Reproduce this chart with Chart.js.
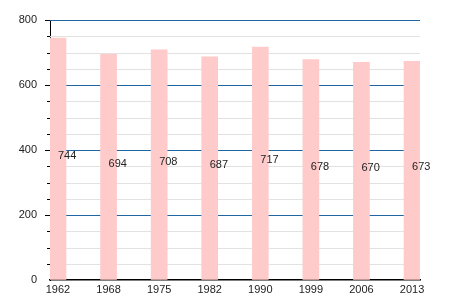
<!DOCTYPE html>
<html>
<head>
<meta charset="utf-8">
<script src="https://cdn.jsdelivr.net/npm/chart.js@4"></script>
<style>
  body { margin: 0; background: #fff; }
  #wrap { width: 450px; height: 300px; }
</style>
</head>
<body>
<div id="wrap"><canvas id="chart" width="450" height="300"></canvas></div>
<script>
const years = ["1962", "1968", "1975", "1982", "1990", "1999", "2006", "2013"];
const population = [744, 694, 708, 687, 717, 678, 670, 673];
const yTicks = [0, 200, 400, 600, 800];

const FONT = "'Liberation Sans', Arial, sans-serif";
const MAJOR = "#1f66a3";
const MINOR = "#e2e2e2";

// horizontal grid: blue every 200, light grey every 50
const gridLines = {
    id: "gridLines",
    beforeDatasetsDraw(chart) {
        const { ctx, chartArea } = chart;
        const y = chart.scales.y;
        ctx.save();
        ctx.lineWidth = 1;
        for (let v = 50; v <= 800; v += 50) {
            const py = Math.round(y.getPixelForValue(v)) + 0.5;
            ctx.strokeStyle = yTicks.includes(v) ? MAJOR : MINOR;
            ctx.beginPath();
            ctx.moveTo(chartArea.left, py);
            ctx.lineTo(chartArea.right, py);
            ctx.stroke();
        }
        ctx.restore();
    },
};

// value labels, written from the middle of each bar
const valueLabels = {
    id: "valueLabels",
    afterDatasetsDraw(chart) {
        const ctx = chart.ctx;
        const meta = chart.getDatasetMeta(0);
        ctx.save();
        ctx.font = "11px " + FONT;
        ctx.fillStyle = "#222";
        ctx.textAlign = "left";
        ctx.textBaseline = "middle";
        meta.data.forEach((bar, i) => {
            const mid = (bar.y + bar.base) / 2 - 3;
            ctx.fillText(String(population[i]), bar.x, mid);
        });
        ctx.restore();
    },
};

// tick marks on the y axis: long at labelled values, short between
const axisTicks = {
    id: "axisTicks",
    afterDraw(chart) {
        const y = chart.scales.y;
        const ctx = chart.ctx;
        ctx.save();
        ctx.strokeStyle = "#000";
        ctx.lineWidth = 1;
        for (let v = 50; v <= 800; v += 50) {
            const len = yTicks.includes(v) ? 5 : 3;
            const py = Math.round(y.getPixelForValue(v)) + 0.5;
            ctx.beginPath();
            ctx.moveTo(y.right - len, py);
            ctx.lineTo(y.right, py);
            ctx.stroke();
        }
        ctx.restore();
    },
};

const ctx = document.getElementById("chart");
new Chart(ctx, {
    type: "bar",
    data: {
        datasets: [
            {
                data: population.map((v, i) => ({ x: i, y: v })),
                backgroundColor: "#ffcaca",
                borderWidth: 0,
                barThickness: 16,
            },
        ],
    },
    options: {
        responsive: false,
        animation: false,
        layout: { padding: { left: 0, right: 30, top: 20, bottom: 0 } },
        plugins: {
            legend: { display: false },
            tooltip: { enabled: false },
        },
        scales: {
            x: {
                type: "linear",
                offset: false,
                min: -0.158,
                max: 7.158,
                afterBuildTicks: (scale) => {
                    scale.ticks = years.map((_, i) => ({ value: i }));
                },
                afterFit: (scale) => { scale.height = 20; },
                grid: { display: false, drawTicks: false, tickLength: 0 },
                border: { display: true, color: "#000", width: 1.5 },
                ticks: {
                    autoSkip: false,
                    maxRotation: 0,
                    padding: 3,
                    color: "#222",
                    font: { family: FONT, size: 11 },
                    callback: (v) => years[v],
                },
            },
            y: {
                min: 0,
                max: 800,
                afterFit: (scale) => { scale.width = 50; },
                border: { display: true, color: "#000", width: 1 },
                grid: {
                    color: "rgba(0,0,0,0)",
                    tickColor: "rgba(0,0,0,0)",
                    tickLength: 5,
                },
                ticks: {
                    stepSize: 200,
                    padding: 8,
                    color: "#222",
                    font: { family: FONT, size: 11 },
                },
            },
        },
    },
    plugins: [gridLines, valueLabels, axisTicks],
});
</script>
</body>
</html>
